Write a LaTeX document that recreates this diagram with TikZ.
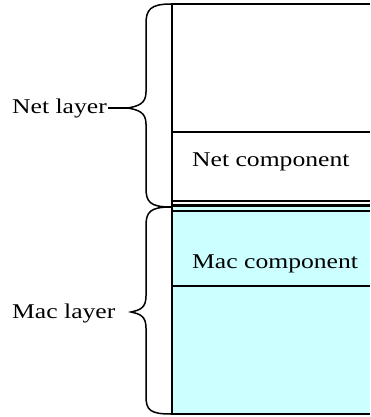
\documentclass[tikz,border=0pt]{standalone}
\usepackage{fontspec}
\setmainfont{Liberation Serif}
\usepackage{graphicx}
\definecolor{cyanbg}{HTML}{CCFFFF}
\begin{document}
\begin{tikzpicture}[x=1pt,y=-1pt,
  lbl/.style={anchor=west,inner sep=0pt,font=\fontsize{21}{24}\selectfont},
  ln/.style={line width=2pt},
  brace/.style={line width=1.5pt}]
\useasboundingbox (0,0) rectangle (370,417);
\fill[white] (0,0) rectangle (370,417);
% layer stack
\fill[cyanbg] (172,206) rectangle (370,414);
\draw[ln] (370,4) -- (172,4) -- (172,414) -- (370,414);
\draw[ln] (172,132) -- (370,132);
\draw[line width=2.5pt] (172,201) -- (370,201);
\draw[line width=2.5pt] (172,205.5) -- (370,205.5);
\draw[line width=2.5pt] (172,211) -- (370,211);
\draw[ln] (172,286) -- (370,286);
% texts
\node[lbl] (netc) at (192,162) {\scalebox{1.22}[1]{Net component}};
\node[lbl] (macc) at (192,264) {\scalebox{1.22}[1]{Mac component}};
\node[lbl] (netl) at (12,108) {\scalebox{1.22}[1]{Net layer}};
\node[lbl] (macl) at (12,313) {\scalebox{1.22}[1]{Mac layer}};
% brace coordinates
\coordinate (nt) at (171,4);
\coordinate (nb) at (171,207);
\coordinate (ntip) at (128,108);
\coordinate (mt) at (171,207);
\coordinate (mb) at (171,414);
\coordinate (mtip) at (131,312);
% Net brace
\draw[brace] (nt) .. controls (150,4) and (146,10) .. (146,24)
  -- (146,92) .. controls (146,104) and (138,106) .. (ntip)
  .. controls (138,110) and (146,112) .. (146,124)
  -- (146,188) .. controls (146,202) and (150,207) .. (nb);
\draw[brace] (netl.east) ++(1,0) -- (ntip);
% Mac brace
\draw[brace] (mt) .. controls (150,207) and (146,212) .. (146,226)
  -- (146,296) .. controls (146,308) and (140,310) .. (mtip)
  .. controls (140,314) and (146,316) .. (146,328)
  -- (146,396) .. controls (146,410) and (150,414) .. (mb);
\end{tikzpicture}
\end{document}
